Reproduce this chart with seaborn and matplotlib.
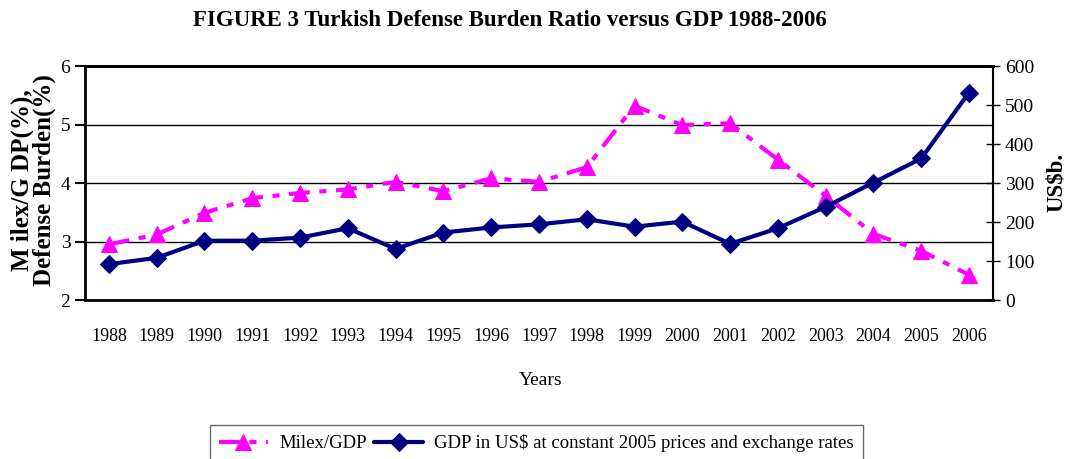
import numpy as np
import pandas as pd
import matplotlib
matplotlib.use("Agg")
import matplotlib.pyplot as plt
import seaborn as sns

sns.set_style("white")
plt.rcParams["font.family"] = ["Liberation Serif", "DejaVu Serif"]
plt.rcParams.update({"text.color": "black", "axes.labelcolor": "black",
                     "xtick.color": "black", "ytick.color": "black"})

# data
years = ["1988", "1989", "1990", "1991", "1992", "1993", "1994", "1995", "1996", "1997",
         "1998", "1999", "2000", "2001", "2002", "2003", "2004", "2005", "2006"]
milex_gdp = [2.95, 3.12, 3.49, 3.74, 3.83, 3.89, 4.02, 3.86, 4.08, 4.02,
             4.27, 5.32, 4.99, 5.02, 4.40, 3.78, 3.13, 2.84, 2.43]
gdp_usd = [92, 108, 152, 152, 160, 184, 131, 173, 186, 194,
           207, 188, 201, 144, 184, 239, 301, 363, 532]

df = pd.DataFrame({"pos": np.arange(len(years)), "year": years,
                   "milex": milex_gdp, "gdp": gdp_usd})

fig = plt.figure(figsize=(10.7, 4.59), dpi=100)
ax = fig.add_axes([0.0794, 0.3464, 0.8486, 0.5098])
ax2 = ax.twinx()

# Milex/GDP on left axis
sns.lineplot(data=df, x="pos", y="milex", ax=ax, color="#FF00FF", linewidth=3,
             linestyle=(0, (5, 2.3, 1.7, 2.3)), marker="^", markersize=11,
             markeredgecolor="#FF00FF", label="Milex/GDP")
# GDP on right axis
sns.lineplot(data=df, x="pos", y="gdp", ax=ax2, color="#000080", linewidth=3,
             marker="D", markersize=9.5, markeredgecolor="#000080",
             label="GDP in US$ at constant 2005 prices and exchange rates")

n = len(years)
ax.set_xlim(-0.5, n - 0.5)
ax.set_ylim(2, 6)
ax2.set_ylim(0, 600)

# category axis: ticks at boundaries, labels at centres
ax.set_xticks(np.arange(-0.5, n, 1))
ax.set_xticklabels([])
ax.set_xticks(df["pos"], minor=True)
ax.set_xticklabels(years, minor=True, fontsize=13)
ax.tick_params(axis="x", which="major", direction="inout", length=16, width=1, color="#555555")
ax.tick_params(axis="x", which="minor", length=0, pad=20)

ax.set_yticks([2, 3, 4, 5, 6])
ax.set_yticklabels(["2", "3", "4", "5", "6"], fontsize=14)
ax.tick_params(axis="y", direction="out", length=7, width=1.5, left=True)
ax2.set_yticks(np.arange(0, 601, 100))
ax2.tick_params(axis="y", direction="inout", length=10, width=1, right=True, labelsize=14)

for y in [3, 4, 5]:
    ax.axhline(y, color="black", linewidth=1, zorder=0)

for a in (ax, ax2):
    for s in a.spines.values():
        s.set_color("black")
        s.set_visible(True)
ax.spines["left"].set_linewidth(2)
ax.spines["top"].set_linewidth(2)
ax.spines["bottom"].set_linewidth(2)
ax2.spines["right"].set_linewidth(1.5)
ax2.spines["top"].set_linewidth(2)

ax.set_xlabel("")
ax.set_ylabel("")
ax2.set_ylabel("")
fig.text(0.031, 0.608, "M ilex/G DP(%),\nDefense Burden(%)", rotation=90, ha="center",
         va="center", fontsize=18, fontweight="bold", linespacing=0.9)
fig.text(0.987, 0.603, "US$b.", rotation=90, ha="center", va="center",
         fontsize=16.5, fontweight="bold")
fig.text(0.505, 0.172, "Years", ha="center", va="center", fontsize=14)
fig.text(0.4766, 0.956, "FIGURE 3 Turkish Defense Burden Ratio versus GDP 1988-2006",
         ha="center", va="center", fontsize=16.5, fontweight="bold")

h1, l1 = ax.get_legend_handles_labels()
h2, l2 = ax2.get_legend_handles_labels()
ax.get_legend().remove()
ax2.get_legend().remove()
leg = fig.legend(h1 + h2, l1 + l2, loc="upper left", bbox_to_anchor=(0.196, 0.074),
                 borderaxespad=0, ncol=2, fontsize=13.5, frameon=True, fancybox=False,
                 edgecolor="#444444", handlelength=2.6, columnspacing=0.4,
                 handletextpad=0.6, borderpad=0.5)
leg.get_frame().set_linewidth(1)

fig.savefig("out.png", dpi=100)
